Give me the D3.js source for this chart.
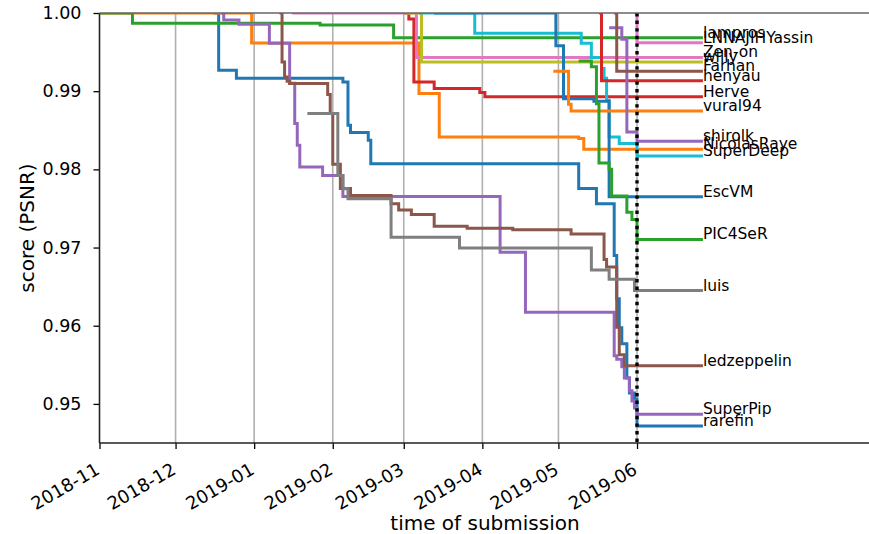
<!DOCTYPE html>
<html><head><meta charset="utf-8">
<script src="https://cdn.jsdelivr.net/npm/d3@7"></script>
<style>
body{margin:0;background:#fff}
text{font-family:"DejaVu Sans",sans-serif;fill:#000}
</style>
</head><body><svg id="c" width="869" height="534"></svg>
<script>
// ---- data ----
const teamNames = ["rarefin","NicolasRaye","lampros","Herve","SuperPip","ledzeppelin","Zen-on","luis","willy","SuperDeep",
                   "EscVM","vural94","PIC4SeR","henyau","shirolk","Farhan","LNNAJIHYassin"];
const rarefin = [["2018-12-16",1.0],["2018-12-18",0.99269],["2018-12-25",0.99167],["2019-02-05",0.99119],["2019-02-07",0.98564],
  ["2019-02-08",0.98471],["2019-02-15",0.98372],["2019-02-16",0.98073],["2019-05-09",0.97756],["2019-05-16",0.9756],
  ["2019-05-23",0.96897],["2019-05-24",0.96346],["2019-05-25",0.95974],["2019-05-26",0.95769],["2019-05-28",0.95333],
  ["2019-05-29",0.95141],["2019-05-31",0.95064],["2019-06-01",0.94718]];
const NicolasRaye = [["2018-11-01",1.0],["2018-12-31",0.99615],["2019-03-07",0.98971],["2019-03-15",0.98414],
  ["2019-05-09",0.98395],["2019-05-11",0.98256]];
const lampros = [["2018-11-01",1.0],["2018-11-14",0.99868],["2019-01-27",0.99846],["2019-02-25",0.99683]];
const Herve = [["2019-03-01",1.0],["2019-03-03",0.99923],["2019-03-05",0.99119],["2019-03-13",0.99035],
  ["2019-03-31",0.98983],["2019-04-02",0.98929]];
const SuperPip = [["2018-12-19",1.0],["2018-12-20",0.9991],["2018-12-26",0.99855],["2019-01-07",0.99612],["2019-01-15",0.99103],
  ["2019-01-17",0.98586],["2019-01-18",0.98308],["2019-01-19",0.98029],["2019-01-28",0.97923],["2019-02-05",0.97654],
  ["2019-04-08",0.9694],["2019-04-18",0.96173],["2019-05-23",0.95615],["2019-05-24",0.9557],["2019-05-26",0.95474],
  ["2019-05-27",0.95333],["2019-05-29",0.95167],["2019-05-30",0.95038],["2019-05-31",0.94949],["2019-06-01",0.94868]];
const ledzeppelin = [["2019-01-11",1.0],["2019-01-12",0.99372],["2019-01-13",0.9918],["2019-01-14",0.99128],["2019-01-15",0.99099],
  ["2019-01-30",0.98958],["2019-01-31",0.98714],["2019-02-01",0.98064],["2019-02-04",0.97756],["2019-02-08",0.97667],
  ["2019-02-24",0.9756],["2019-02-27",0.97481],["2019-03-04",0.97423],["2019-03-13",0.97273],["2019-03-26",0.97247],
  ["2019-04-13",0.97227],["2019-05-06",0.97173],["2019-05-19",0.96846],["2019-05-20",0.9675],["2019-05-24",0.95981],
  ["2019-05-25",0.95628],["2019-05-27",0.95487]];
const ZenOn = [["2019-01-16",1.0],["2019-03-06",0.99432]];
const luis = [["2019-01-22",0.98714],["2019-02-03",0.97923],["2019-02-05",0.97753],["2019-02-07",0.97624],["2019-02-24",0.97132],
  ["2019-03-23",0.96994],["2019-05-14",0.96714],["2019-05-21",0.96594],["2019-05-31",0.96449]];
const willy = [["2019-03-01",1.0],["2019-03-08",0.99372]];
const SuperDeep = [["2019-03-07",1.0],["2019-03-29",0.9974],["2019-05-10",0.99612],["2019-05-14",0.9943],["2019-05-18",0.99291],
  ["2019-05-19",0.99167],["2019-05-20",0.98885],["2019-05-21",0.98414],["2019-05-25",0.9833],["2019-06-01",0.98171]];
const EscVM = [["2019-03-13",1.0],["2019-04-30",0.99581],["2019-05-03",0.98904],["2019-05-15",0.98872],["2019-05-21",0.9765]];
const vural94 = [["2019-04-29",0.99256],["2019-05-05",0.98833],["2019-05-06",0.98747]];
const PIC4SeR = [["2019-05-09",0.99385],["2019-05-14",0.99312],["2019-05-16",0.9884],["2019-05-17",0.98081],["2019-05-21",0.98],
  ["2019-05-22",0.97658],["2019-05-28",0.97453],["2019-05-30",0.97359],["2019-06-01",0.97103]];
const henyau = [["2019-05-17",1.0],["2019-05-18",0.99135]];
const shirolk = [["2019-05-21",0.99812],["2019-05-26",0.99663],["2019-05-28",0.98478],["2019-06-01",0.98359]];
const Farhan = [["2019-05-23",1.0],["2019-05-24",0.99256]];
const LNNAJIHYassin = [["2019-05-31",1.0],["2019-06-01",0.99619]];
const seriesValues = [rarefin,NicolasRaye,lampros,Herve,SuperPip,ledzeppelin,ZenOn,luis,willy,SuperDeep,
                      EscVM,vural94,PIC4SeR,henyau,shirolk,Farhan,LNNAJIHYassin];
const xTickLabels = ["2018-11","2018-12","2019-01","2019-02","2019-03","2019-04","2019-05","2019-06"];
const yTickValues = [0.95,0.96,0.97,0.98,0.99,1.00];
const deadline = "2019-06-01";
const endDate = "2019-06-27";
const xDomain = ["2018-11-01","2019-08-31"];
const yDomain = [0.945, 1.0];

// ---- chart ----
const svg = d3.select("#c");
const L = 99.5, R = 869, T = 13, B = 443;
const parseDay = d3.utcParse("%Y-%m-%d");
const parseMonth = d3.utcParse("%Y-%m");
const x = d3.scaleUtc().domain([parseDay(xDomain[0]), d3.utcHour.offset(parseDay(xDomain[1]), 12)]).range([L, R]);
const y = d3.scaleLinear().domain(yDomain).range([B, T]);
const color = d3.scaleOrdinal(d3.schemeCategory10);

svg.append("defs").append("clipPath").attr("id","clip")
  .append("rect").attr("x",L).attr("y",T).attr("width",R-L).attr("height",B-T);

const tickDates = xTickLabels.map(parseMonth);

// grid
svg.append("g").selectAll("line").data(tickDates).join("line")
  .attr("x1",d=>x(d)).attr("x2",d=>x(d)).attr("y1",T).attr("y2",B)
  .attr("stroke","#b0b0b0").attr("stroke-width",1.6);

// series
const line = d3.line().x(d=>x(d[0])).y(d=>y(d[1])).curve(d3.curveStepAfter);
const gS = svg.append("g").attr("clip-path","url(#clip)");
seriesValues.forEach((s,i)=>{
  const pts = s.map(p=>[parseDay(p[0]),p[1]]);
  pts.push([parseDay(endDate), s[s.length-1][1]]);
  gS.append("path").datum(pts).attr("d",line).attr("fill","none")
    .attr("stroke",color(i)).attr("stroke-width",3).attr("stroke-linejoin","miter");
});

// deadline dotted line
svg.append("line").attr("x1",x(parseDay(deadline))).attr("x2",x(parseDay(deadline)))
  .attr("y1",T).attr("y2",B).attr("stroke","#000").attr("stroke-width",3.4)
  .attr("stroke-dasharray","3.4,4.2");

// labels
seriesValues.forEach((s,i)=>{
  svg.append("text").attr("x",x(parseDay(endDate))).attr("y",y(s[s.length-1][1]))
    .attr("font-size","15.5px").text(teamNames[i]);
});

// axes
const ax = svg.append("g").attr("transform",`translate(0,${B})`)
  .call(d3.axisBottom(x).tickValues(tickDates).tickFormat(d3.utcFormat("%Y-%m")).tickSize(6).tickPadding(6));
ax.select(".domain").remove();
ax.selectAll(".tick line").attr("stroke","#000").attr("stroke-width",1.3);
ax.selectAll(".tick text").attr("font-size","18px").attr("font-family","DejaVu Sans")
  .attr("text-anchor","end").attr("dy",null).attr("y",0)
  .attr("transform","translate(1,30) rotate(-30)");
const ay = svg.append("g").attr("transform",`translate(${L},0)`)
  .call(d3.axisLeft(y).tickValues(yTickValues).tickFormat(d3.format(".2f")).tickSize(6).tickPadding(12));
ay.select(".domain").remove();
ay.selectAll(".tick line").attr("stroke","#000").attr("stroke-width",1.3);
ay.selectAll(".tick text").attr("font-size","17.5px").attr("font-family","DejaVu Sans");

// spines
svg.append("line").attr("x1",L).attr("x2",L).attr("y1",T).attr("y2",B).attr("stroke","#222").attr("stroke-width",1.4);
svg.append("line").attr("x1",L).attr("x2",R).attr("y1",B).attr("y2",B).attr("stroke","#222").attr("stroke-width",1.4);
svg.append("line").attr("x1",L).attr("x2",R).attr("y1",T).attr("y2",T).attr("stroke","#666").attr("stroke-width",1.4);

// titles
svg.append("text").attr("x",485).attr("y",530).attr("text-anchor","middle").attr("font-size","20px").text("time of submission");
svg.append("text").attr("transform","translate(34,228) rotate(-90)").attr("text-anchor","middle").attr("font-size","20px").text("score (PSNR)");
</script></body></html>
